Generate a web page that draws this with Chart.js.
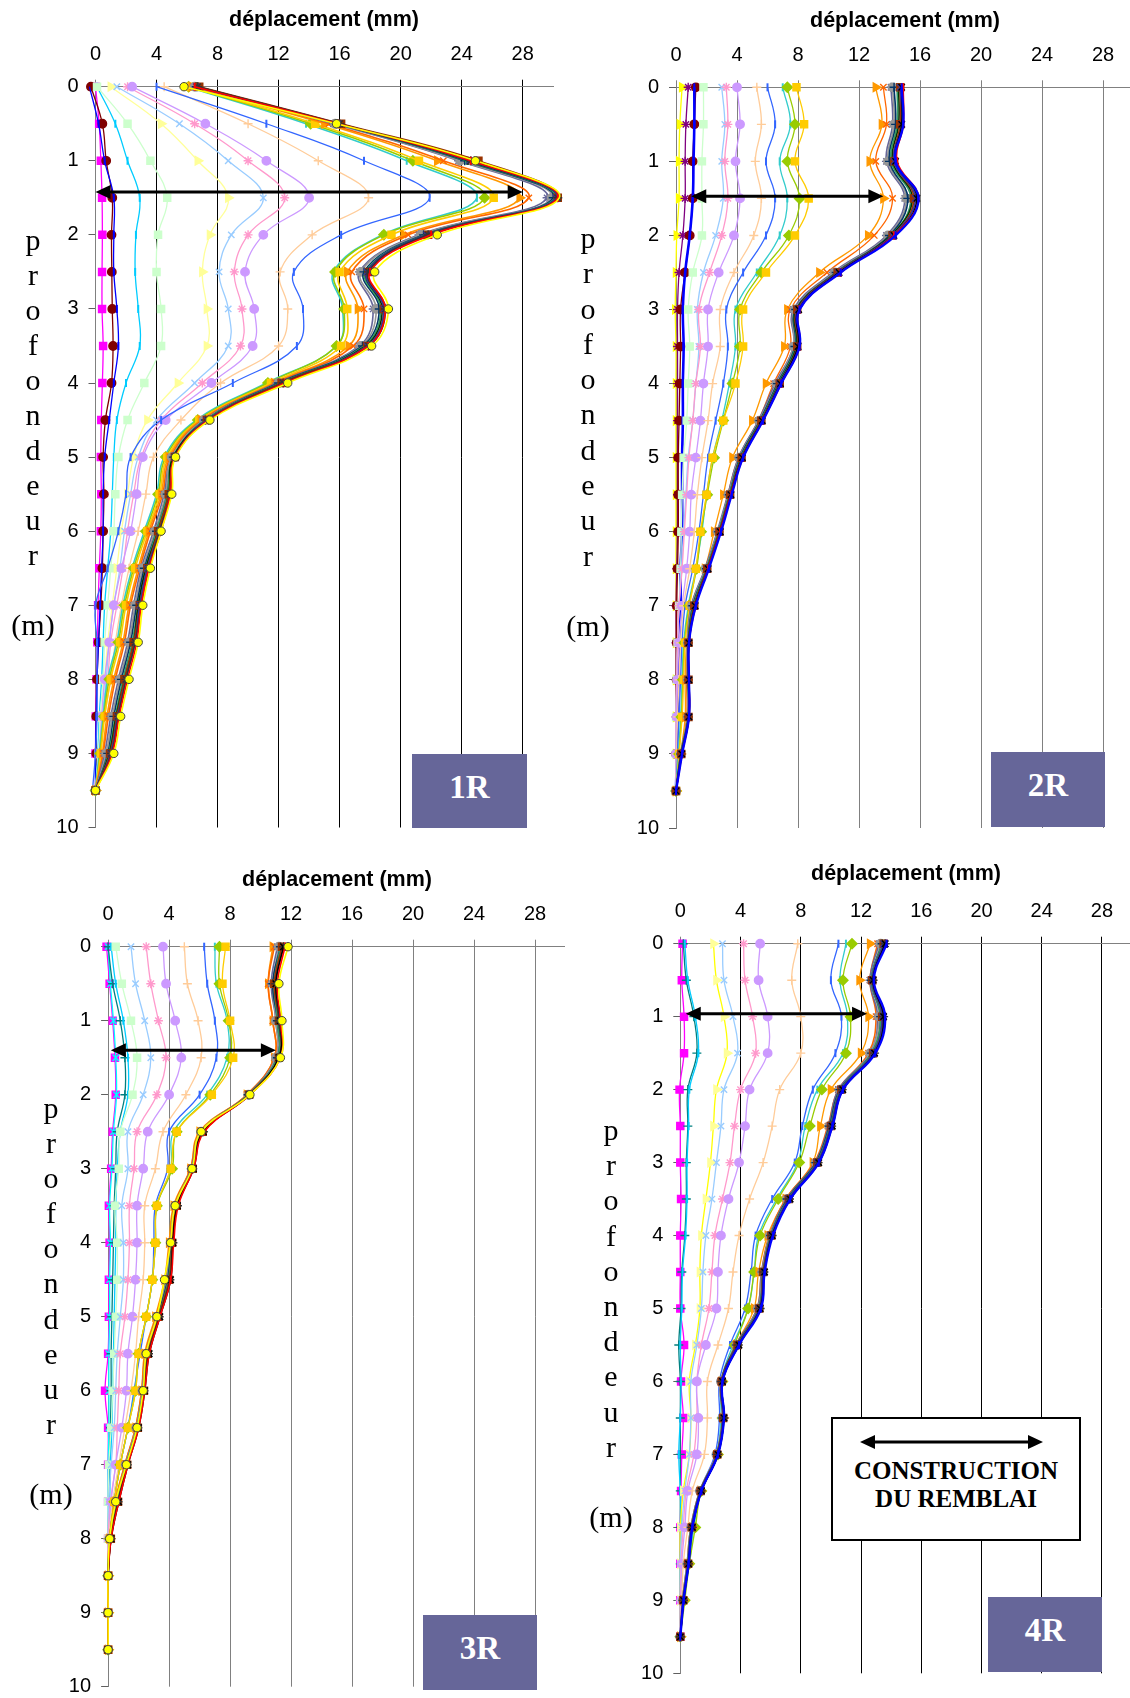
<!DOCTYPE html>
<html>
<head>
<meta charset="utf-8">
<script src="https://cdn.jsdelivr.net/npm/chart.js@4.4.0/dist/chart.umd.min.js"></script>
<style>
  html, body { margin: 0; padding: 0; background: #fff; }
  body { position: relative; width: 1130px; height: 1698px; overflow: hidden; }
  canvas { position: absolute; }
  .title { position: absolute; font: bold 21.5px 'Liberation Sans', Arial, sans-serif; line-height: 22px;
           white-space: nowrap; transform: translateX(-50%); color: #000; }
  .depth { position: absolute; width: 60px; margin-left: -30px; text-align: center;
           font: 30px 'Liberation Serif', 'Times New Roman', serif; color: #000; }
  .tag { position: absolute; background: #666699; color: #fff; box-sizing: border-box; padding-bottom: 8px;
         font: bold 33px 'Liberation Serif', 'Times New Roman', serif;
         display: flex; align-items: center; justify-content: center; z-index: 2; }
  .legend { position: absolute; left: 831px; top: 1417px; width: 250px; height: 124px; box-sizing: border-box;
            border: 2px solid #000; background: #fff; z-index: 2; }
  .legend svg { position: absolute; left: 0; top: 0; }
  .legend .txt { position: absolute; left: 0; right: 0; top: 38px; text-align: center; line-height: 30px;
                 font: bold 25px 'Liberation Serif', 'Times New Roman', serif; color: #000; }
</style>
</head>
<body>

<canvas id="c1" width="565" height="850" style="left:0;top:0"></canvas>
<canvas id="c2" width="565" height="850" style="left:565px;top:0"></canvas>
<canvas id="c3" width="565" height="848" style="left:0;top:850px"></canvas>
<canvas id="c4" width="565" height="848" style="left:565px;top:850px"></canvas>

<div class="title" style="left:324px;top:8px">déplacement (mm)</div>
<div class="title" style="left:905px;top:9px">déplacement (mm)</div>
<div class="title" style="left:337px;top:868px">déplacement (mm)</div>
<div class="title" style="left:906px;top:862px">déplacement (mm)</div>

<div class="depth" style="left:33px;top:222px;line-height:35px">p<br>r<br>o<br>f<br>o<br>n<br>d<br>e<br>u<br>r<br><br>(m)</div>
<div class="depth" style="left:588px;top:220px;line-height:35.3px">p<br>r<br>o<br>f<br>o<br>n<br>d<br>e<br>u<br>r<br><br>(m)</div>
<div class="depth" style="left:51px;top:1090px;line-height:35.1px">p<br>r<br>o<br>f<br>o<br>n<br>d<br>e<br>u<br>r<br><br>(m)</div>
<div class="depth" style="left:611px;top:1112px;line-height:35.2px">p<br>r<br>o<br>f<br>o<br>n<br>d<br>e<br>u<br>r<br><br>(m)</div>

<div class="tag" style="left:412px;top:754px;width:115px;height:74px">1R</div>
<div class="tag" style="left:991px;top:752px;width:114px;height:75px">2R</div>
<div class="tag" style="left:423px;top:1615px;width:114px;height:75px">3R</div>
<div class="tag" style="left:988px;top:1597px;width:114px;height:75px">4R</div>

<div class="legend">
  <svg width="246" height="50">
    <line x1="40" y1="23" x2="197" y2="23" stroke="#000" stroke-width="3"/>
    <polygon points="27,23 42,16 42,30" fill="#000"/>
    <polygon points="210,23 195,16 195,30" fill="#000"/>
  </svg>
  <div class="txt">CONSTRUCTION<br>DU REMBLAI</div>
</div>

<script>
// Depth of each inclinometer reading (m)
const depth = [0, 0.5, 1, 1.5, 2, 2.5, 3, 3.5, 4, 4.5, 5, 5.5, 6, 6.5, 7, 7.5, 8, 8.5, 9, 9.5];
// Axis tick values
const dispTicks = [0, 4, 8, 12, 16, 20, 24, 28];
const depthTicks = [0, 1, 2, 3, 4, 5, 6, 7, 8, 9, 10];

// Filling phase markers: depth (m), start and end displacement (mm) for 1R, 2R, 3R, 4R
const arrowDepth = [1.42, 1.47, 1.40, 0.96];
const arrowFrom = [0.0, 1.0, 0.18, 0.36];
const arrowTo = [28.0, 13.6, 11.0, 12.4];

// ---------- Inclinometer 1R : displacement (mm) per reading ----------
const r1_magenta  = [0, 0.24, 0.35, 0.43, 0.45, 0.43, 0.43, 0.5, 0.45, 0.38, 0.35, 0.38, 0.35, 0.25, 0.17, 0.12, 0.07, 0.02, 0, 0];
const r1_maroon   = [-0.3, 0.45, 0.7, 1.1, 1.05, 1.07, 1.1, 1.15, 1.05, 0.65, 0.5, 0.55, 0.5, 0.45, 0.35, 0.2, 0.1, 0.05, 0.05, 0];
const r1_blue     = [-0.4, 0.2, 0.6, 1.2, 1.2, 1.2, 1.4, 1.5, 1.2, 0.9, 0.6, 0.5, 0.5, 0.4, 0.3, 0.2, 0.1, 0.05, 0, 0];
const r1_sky      = [0.1, 1.3, 2.1, 2.9, 2.65, 2.6, 2.8, 2.9, 2.0, 1.4, 1.2, 1.1, 1.0, 0.8, 0.6, 0.5, 0.4, 0.25, 0.15, 0];
const r1_lgreen   = [0.1, 2.1, 3.6, 4.7, 4.1, 4.0, 4.3, 4.3, 3.2, 2.1, 1.5, 1.3, 1.2, 1.0, 0.8, 0.6, 0.5, 0.3, 0.2, 0];
const r1_lyellow  = [1.0, 4.3, 6.7, 8.7, 7.5, 7.0, 7.3, 7.3, 5.4, 3.4, 2.5, 2.1, 1.7, 1.4, 1.1, 0.8, 0.6, 0.4, 0.2, 0];
const r1_paleblue = [1.4, 5.5, 8.7, 11.0, 8.9, 8.1, 8.7, 8.7, 6.5, 4.0, 2.8, 2.3, 1.9, 1.6, 1.2, 0.9, 0.7, 0.45, 0.25, 0];
const r1_rose     = [2.1, 6.5, 10.0, 12.4, 10.0, 9.1, 9.6, 9.5, 7.0, 4.3, 3.0, 2.5, 2.1, 1.8, 1.4, 1.0, 0.8, 0.5, 0.3, 0];
const r1_lavender = [2.4, 7.2, 11.2, 14.0, 11.0, 9.8, 10.4, 10.3, 7.6, 4.6, 3.1, 2.7, 2.3, 1.7, 1.2, 0.9, 0.6, 0.4, 0.25, 0];
const r1_tan      = [4.5, 10.0, 14.6, 17.9, 14.2, 12.1, 12.6, 12.0, 8.2, 5.6, 3.8, 3.3, 2.8, 2.2, 1.7, 1.3, 1.0, 0.6, 0.3, 0];
const r1_royal    = [4.0, 11.2, 17.6, 21.9, 16.1, 13.0, 13.6, 13.2, 9.0, 4.3, 2.3, 2.0, 1.5, 0.8, 0.0, 0.1, 0.1, 0.1, 0.0, -0.2];
const r1_aqua     = [6.0, 13.8, 20.4, 25.0, 18.8, 15.6, 16.2, 15.8, 11.2, 6.6, 4.5, 4.0, 3.2, 2.4, 1.8, 1.4, 0.8, 0.5, 0.25, 0];
const r1_lime     = [6.1, 14.1, 20.8, 25.5, 18.9, 15.7, 16.3, 15.8, 11.3, 6.7, 4.6, 4.1, 3.3, 2.5, 1.9, 1.5, 0.9, 0.55, 0.3, 0];
const r1_gold     = [6.2, 14.4, 21.2, 26.1, 19.4, 16.0, 16.5, 16.1, 11.5, 6.8, 4.7, 4.2, 3.4, 2.6, 2.0, 1.6, 1.0, 0.6, 0.35, 0];
const r1_orange   = [6.3, 15.0, 22.4, 27.8, 20.2, 16.5, 17.2, 16.6, 11.7, 6.9, 4.8, 4.3, 3.5, 2.8, 2.2, 1.8, 1.2, 0.75, 0.45, 0];
const r1_orangered= [6.4, 15.3, 22.8, 28.4, 20.5, 16.8, 17.6, 16.9, 11.8, 7.0, 4.9, 4.4, 3.6, 2.9, 2.3, 1.9, 1.3, 0.85, 0.5, 0];
const r1_bluegray = [6.5, 15.6, 23.8, 29.6, 21.2, 17.3, 18.2, 17.3, 11.9, 7.1, 5.0, 4.5, 3.8, 3.0, 2.5, 2.1, 1.5, 1.0, 0.6, 0];
const r1_gray     = [6.5, 15.7, 23.9, 29.9, 21.3, 17.4, 18.4, 17.4, 12.0, 7.1, 5.0, 4.6, 3.9, 3.1, 2.6, 2.2, 1.6, 1.1, 0.7, 0];
const r1_darkteal = [6.6, 15.8, 24.2, 30.0, 21.5, 17.6, 18.6, 17.5, 12.0, 7.2, 5.1, 4.7, 4.0, 3.2, 2.7, 2.3, 1.7, 1.2, 0.8, 0];
const r1_seagreen = [6.6, 15.8, 24.3, 30.1, 21.6, 17.7, 18.7, 17.6, 12.1, 7.2, 5.1, 4.7, 4.0, 3.3, 2.8, 2.4, 1.8, 1.3, 0.85, 0];
const r1_darkgreen= [6.7, 15.9, 24.4, 30.2, 21.7, 17.8, 18.8, 17.7, 12.2, 7.3, 5.1, 4.8, 4.1, 3.3, 2.8, 2.5, 1.9, 1.35, 0.9, 0];
const r1_brown    = [6.8, 16.1, 25.1, 30.3, 21.8, 17.9, 18.9, 17.8, 12.2, 7.3, 5.2, 4.8, 4.1, 3.4, 2.9, 2.5, 1.9, 1.4, 0.95, 0];
const r1_indigo   = [6.6, 15.9, 24.5, 30.2, 21.7, 17.8, 18.9, 17.8, 12.3, 7.3, 5.2, 4.9, 4.2, 3.4, 2.9, 2.6, 2.0, 1.45, 1.0, 0];
const r1_charcoal = [6.7, 16.0, 24.6, 30.3, 21.8, 17.9, 19.0, 17.9, 12.3, 7.4, 5.2, 4.9, 4.2, 3.5, 3.0, 2.6, 2.0, 1.5, 1.05, 0];
const r1_red      = [6.5, 15.9, 24.6, 30.3, 22.0, 18.0, 19.0, 17.9, 12.4, 7.4, 5.2, 4.9, 4.3, 3.5, 3.0, 2.7, 2.1, 1.55, 1.1, 0];
const r1_yellow   = [5.8, 15.8, 24.9, 30.4, 22.4, 18.3, 19.2, 18.1, 12.6, 7.5, 5.25, 5.0, 4.3, 3.6, 3.1, 2.8, 2.2, 1.65, 1.2, 0];

// ---------- Inclinometer 2R ----------
const r2_yellow   = [0.4, 0.25, 0.2, 0.2, 0.05, 0.0, -0.05, 0.0, 0.0, 0.0, 0.0, 0.0, 0.0, 0.0, 0.0, 0.0, 0.0, 0.0, 0.0, 0];
const r2_purple   = [0.8, 0.65, 0.6, 0.6, 0.45, 0.2, 0.1, 0.1, 0.1, 0.1, 0.1, 0.1, 0.1, 0.05, 0.0, 0.0, 0.0, 0.0, 0.0, 0];
const r2_maroon   = [1.3, 1.2, 1.1, 1.1, 0.9, 0.6, 0.3, 0.3, 0.25, 0.2, 0.15, 0.15, 0.15, 0.1, 0.05, 0.05, 0.05, 0.05, 0.0, 0];
const r2_blue     = [1.2, 1.2, 1.15, 1.1, 0.9, 0.6, 0.45, 0.5, 0.45, 0.45, 0.4, 0.4, 0.4, 0.3, 0.3, 0.2, 0.15, 0.1, 0.05, 0];
const r2_lgreen   = [1.8, 1.8, 1.7, 1.7, 1.7, 1.1, 0.8, 0.9, 0.8, 0.7, 0.5, 0.4, 0.35, 0.3, 0.2, 0.1, 0.05, 0.0, 0.0, 0];
const r2_paleblue = [3.0, 3.2, 3.0, 3.1, 2.6, 1.8, 1.4, 1.5, 1.3, 1.1, 0.8, 0.65, 0.5, 0.35, 0.2, 0.1, 0.05, 0.0, 0.0, 0];
const r2_rose     = [3.3, 3.4, 3.2, 3.4, 3.0, 2.2, 1.5, 1.6, 1.3, 1.1, 0.85, 0.7, 0.55, 0.4, 0.2, 0.1, 0.05, 0.0, 0.0, 0];
const r2_lavender = [4.0, 4.2, 3.9, 4.2, 3.8, 2.8, 2.1, 2.1, 1.8, 1.6, 1.3, 1.0, 0.9, 0.7, 0.4, 0.2, 0.1, 0.05, 0.0, 0];
const r2_tan      = [5.3, 5.6, 5.2, 5.6, 5.1, 3.8, 2.9, 2.9, 2.4, 2.1, 1.7, 1.4, 1.2, 0.9, 0.5, 0.3, 0.2, 0.1, 0.05, 0];
const r2_royal    = [6.0, 6.5, 5.9, 6.5, 5.9, 4.4, 3.3, 3.4, 3.1, 2.6, 2.1, 1.8, 1.5, 1.1, 0.6, 0.4, 0.3, 0.2, 0.1, 0];
const r2_aqua     = [7.0, 7.5, 6.8, 7.3, 6.8, 5.3, 3.9, 3.9, 3.5, 3.0, 2.4, 2.0, 1.7, 1.3, 0.8, 0.5, 0.4, 0.3, 0.15, 0];
const r2_lime     = [7.3, 7.8, 7.3, 8.1, 7.4, 5.6, 4.2, 4.2, 3.7, 3.1, 2.5, 2.05, 1.65, 1.35, 0.85, 0.55, 0.45, 0.35, 0.2, 0];
const r2_gold     = [7.9, 8.4, 7.8, 8.7, 7.8, 5.9, 4.4, 4.4, 3.9, 3.1, 2.4, 2.0, 1.6, 1.3, 0.9, 0.6, 0.5, 0.4, 0.2, 0];
const r2_orange   = [13.1, 13.5, 12.7, 13.6, 12.6, 9.4, 7.3, 7.1, 5.9, 5.0, 3.7, 3.1, 2.5, 1.9, 1.0, 0.7, 0.6, 0.6, 0.3, 0];
const r2_orangered= [13.6, 13.8, 13.1, 14.2, 13.0, 9.9, 7.5, 7.5, 6.4, 5.4, 4.1, 3.4, 2.8, 2.0, 1.1, 0.8, 0.7, 0.7, 0.35, 0];
const r2_bluegray = [14.1, 14.2, 13.8, 15.0, 13.8, 10.3, 7.7, 7.7, 6.5, 5.4, 4.1, 3.4, 2.7, 1.9, 1.0, 0.75, 0.75, 0.75, 0.3, 0];
const r2_gray     = [14.2, 14.3, 13.9, 15.1, 13.9, 10.4, 7.8, 7.7, 6.6, 5.45, 4.15, 3.45, 2.75, 1.95, 1.05, 0.77, 0.77, 0.77, 0.3, 0];
const r2_darkteal = [14.3, 14.4, 14.0, 15.2, 14.0, 10.5, 7.85, 7.8, 6.65, 5.5, 4.2, 3.5, 2.8, 2.0, 1.1, 0.8, 0.8, 0.8, 0.32, 0];
const r2_seagreen = [14.5, 14.5, 14.1, 15.4, 14.1, 10.55, 7.9, 7.85, 6.7, 5.55, 4.25, 3.5, 2.8, 2.0, 1.15, 0.8, 0.8, 0.8, 0.33, 0];
const r2_darkgreen= [14.6, 14.6, 14.2, 15.5, 14.1, 10.6, 7.9, 7.9, 6.75, 5.6, 4.3, 3.55, 2.85, 2.05, 1.2, 0.82, 0.82, 0.82, 0.35, 0];
const r2_brown    = [14.7, 14.7, 14.3, 15.6, 14.2, 10.6, 7.95, 7.95, 6.8, 5.6, 4.3, 3.55, 2.85, 2.05, 1.2, 0.82, 0.82, 0.82, 0.35, 0];
const r2_indigo   = [14.7, 14.8, 14.3, 15.7, 14.2, 10.65, 8.0, 8.0, 6.8, 5.65, 4.35, 3.6, 2.9, 2.1, 1.25, 0.84, 0.84, 0.84, 0.37, 0];
const r2_black    = [14.8, 14.8, 14.4, 15.8, 14.3, 10.7, 8.05, 8.0, 6.85, 5.65, 4.35, 3.6, 2.9, 2.1, 1.25, 0.85, 0.85, 0.85, 0.38, 0];
const r2_red      = [14.9, 14.9, 14.5, 15.9, 14.3, 10.8, 8.1, 8.1, 6.9, 5.7, 4.4, 3.6, 2.9, 2.1, 1.3, 0.85, 0.85, 0.85, 0.4, 0];
const r2_bblue    = [14.8, 14.9, 14.4, 15.9, 14.4, 10.8, 8.1, 8.1, 6.9, 5.7, 4.4, 3.65, 2.95, 2.15, 1.3, 0.85, 0.85, 0.85, 0.4, 0];

// ---------- Inclinometer 3R ----------
const r3_magenta  = [-0.1, 0.1, 0.3, 0.45, 0.5, 0.3, 0.2, 0.05, 0.1, 0.05, 0.05, 0.0, -0.2, 0.0, 0.0, 0.0, 0.0, 0.0, 0.0, 0];
const r3_cyan     = [0.0, 0.15, 0.35, 0.5, 0.55, 0.35, 0.25, 0.1, 0.15, 0.1, 0.1, 0.05, 0.05, 0.05, 0.0, 0.0, 0.0, 0.0, 0.0, 0];
const r3_teal     = [0.0, 0.3, 0.8, 1.1, 1.1, 0.6, 0.5, 0.4, 0.35, 0.3, 0.25, 0.2, 0.2, 0.15, 0.1, 0.05, 0.0, 0.0, 0.0, 0];
const r3_sky      = [0.2, 0.5, 1.0, 1.3, 1.3, 0.8, 0.6, 0.5, 0.5, 0.45, 0.4, 0.35, 0.3, 0.25, 0.15, 0.1, 0.0, 0.0, 0.0, 0];
const r3_lgreen   = [0.5, 0.9, 1.5, 1.9, 1.6, 0.8, 0.7, 0.45, 0.6, 0.6, 0.5, 0.4, 0.3, 0.2, 0.05, 0.0, 0.0, 0.0, 0.0, 0];
const r3_paleblue = [1.5, 1.8, 2.4, 2.8, 2.3, 1.3, 1.3, 0.9, 1.0, 1.0, 0.8, 0.6, 0.5, 0.4, 0.2, 0.05, 0.0, 0.0, 0.0, 0];
const r3_rose     = [2.5, 2.8, 3.3, 3.8, 3.2, 1.9, 1.7, 1.4, 1.4, 1.3, 1.1, 0.8, 0.7, 0.6, 0.5, 0.15, 0.0, 0.0, 0.0, 0];
const r3_lavender = [3.6, 3.8, 4.4, 4.8, 4.0, 2.6, 2.3, 1.9, 1.9, 1.8, 1.6, 1.3, 1.2, 0.9, 0.5, 0.2, 0.05, 0.0, 0.0, 0];
const r3_tan      = [5.0, 5.2, 5.9, 6.1, 5.1, 3.6, 3.1, 2.4, 2.4, 2.3, 2.0, 1.8, 1.5, 1.1, 0.7, 0.3, 0.05, 0.0, 0.0, 0];
const r3_royal    = [6.3, 6.5, 7.0, 7.1, 6.0, 4.0, 3.9, 3.1, 3.0, 2.9, 2.5, 2.1, 1.7, 1.3, 0.8, 0.4, 0.1, 0.0, 0.0, 0];
const r3_aqua     = [7.0, 7.1, 7.8, 7.8, 6.5, 4.3, 4.1, 3.2, 3.1, 2.9, 2.5, 2.0, 1.75, 1.3, 0.8, 0.4, 0.1, 0.0, 0.0, 0];
const r3_lime     = [7.3, 7.3, 7.9, 8.0, 6.7, 4.5, 4.2, 3.2, 3.1, 2.9, 2.5, 2.0, 1.8, 1.3, 0.8, 0.4, 0.1, 0.0, 0.0, 0];
const r3_gold     = [7.7, 7.5, 8.0, 8.2, 6.8, 4.5, 4.1, 3.2, 3.1, 2.9, 2.5, 2.0, 1.8, 1.3, 0.8, 0.4, 0.1, 0.0, 0.0, 0];
const r3_orange   = [10.8, 10.5, 10.8, 10.9, 9.1, 6.0, 5.4, 4.3, 4.0, 3.7, 3.1, 2.4, 2.2, 1.8, 1.1, 0.45, 0.1, 0, 0, 0];
const r3_orangered= [10.9, 10.5, 10.8, 10.9, 9.1, 6.05, 5.4, 4.35, 4.05, 3.75, 3.15, 2.45, 2.2, 1.8, 1.1, 0.5, 0.1, 0, 0, 0];
const r3_bluegray = [11.1, 10.7, 11.0, 11.0, 9.15, 6.1, 5.45, 4.4, 4.1, 3.8, 3.2, 2.5, 2.25, 1.85, 1.15, 0.55, 0.12, 0, 0, 0];
const r3_gray     = [11.2, 10.8, 11.0, 11.0, 9.2, 6.1, 5.5, 4.4, 4.1, 3.85, 3.2, 2.5, 2.25, 1.85, 1.15, 0.55, 0.12, 0, 0, 0];
const r3_darkteal = [11.3, 10.8, 11.1, 11.1, 9.2, 6.15, 5.5, 4.45, 4.15, 3.9, 3.25, 2.55, 2.3, 1.9, 1.2, 0.6, 0.15, 0, 0, 0];
const r3_seagreen = [11.3, 10.9, 11.1, 11.1, 9.2, 6.2, 5.5, 4.5, 4.2, 3.95, 3.3, 2.6, 2.3, 1.9, 1.2, 0.6, 0.15, 0, 0, 0];
const r3_brown    = [11.4, 10.9, 11.2, 11.2, 9.25, 6.2, 5.55, 4.5, 4.2, 4.0, 3.3, 2.6, 2.35, 1.95, 1.25, 0.65, 0.18, 0, 0, 0];
const r3_charcoal = [11.5, 11.0, 11.2, 11.2, 9.25, 6.25, 5.55, 4.55, 4.25, 4.05, 3.35, 2.65, 2.35, 1.95, 1.25, 0.65, 0.18, 0, 0, 0];
const r3_black    = [11.5, 11.0, 11.3, 11.2, 9.3, 6.25, 5.6, 4.55, 4.25, 4.1, 3.4, 2.7, 2.4, 2.0, 1.3, 0.7, 0.2, 0, 0, 0];
const r3_red      = [11.6, 11.1, 11.3, 11.3, 9.3, 6.3, 5.6, 4.6, 4.3, 4.1, 3.4, 2.7, 2.4, 2.0, 1.3, 0.7, 0.2, 0, 0, 0];
const r3_yellow   = [11.8, 11.2, 11.4, 11.3, 9.3, 6.1, 5.5, 4.4, 4.1, 3.7, 3.2, 2.5, 2.3, 1.9, 1.2, 0.5, 0.1, 0, 0, 0];

// ---------- Inclinometer 4R ----------
const r4_magenta  = [0.15, 0.1, 0.25, 0.25, -0.05, 0.0, 0.0, 0.05, 0.0, 0.0, 0.0, 0.25, 0.05, 0.2, 0.1, 0.05, 0.0, 0.0, 0.0, 0];
const r4_teal     = [0.2, 0.4, 0.9, 1.1, 0.5, 0.5, 0.4, 0.4, 0.3, 0.1, 0.05, -0.1, 0.0, 0.0, 0.0, 0.0, 0.0, 0.0, 0.0, 0];
const r4_sky      = [0.3, 0.5, 1.0, 1.2, 0.6, 0.55, 0.45, 0.45, 0.35, 0.15, 0.1, 0.0, 0.05, 0.0, -0.1, 0.0, 0.05, 0.0, 0.0, 0];
const r4_lyellow  = [2.2, 2.4, 2.9, 3.1, 2.4, 2.2, 2.0, 1.7, 1.4, 1.3, 1.3, 1.0, 0.6, 0.7, 0.6, 0.2, 0.0, 0.0, 0.0, 0];
const r4_paleblue = [2.8, 2.9, 3.5, 3.8, 2.9, 2.7, 2.4, 2.1, 1.7, 1.5, 1.4, 1.1, 0.7, 0.7, 0.6, 0.3, 0.1, 0.0, 0.0, 0];
const r4_rose     = [4.2, 4.3, 4.8, 5.0, 4.0, 3.6, 3.3, 2.8, 2.3, 2.1, 1.9, 1.4, 1.1, 1.1, 0.9, 0.4, 0.2, 0.05, 0.0, 0];
const r4_lavender = [5.3, 5.2, 5.8, 5.8, 4.6, 4.3, 3.9, 3.2, 2.7, 2.5, 2.4, 1.7, 1.1, 1.2, 1.1, 0.5, 0.3, 0.1, 0.05, 0];
const r4_tan      = [7.8, 7.4, 8.0, 8.0, 6.6, 6.1, 5.5, 4.6, 3.9, 3.5, 3.2, 2.5, 1.8, 1.8, 1.6, 0.8, 0.5, 0.2, 0.1, 0];
const r4_royal    = [10.5, 10.0, 10.7, 10.3, 8.8, 8.1, 7.6, 6.1, 5.0, 4.7, 4.3, 3.3, 2.6, 2.6, 2.3, 1.3, 0.8, 0.5, 0.2, 0];
const r4_aqua     = [11.0, 10.6, 11.1, 10.8, 9.1, 8.3, 7.8, 6.4, 5.2, 4.9, 4.5, 3.5, 2.7, 2.7, 2.4, 1.4, 0.9, 0.6, 0.2, 0];
const r4_lime     = [11.4, 10.8, 11.3, 11.0, 9.4, 8.6, 7.9, 6.5, 5.3, 4.9, 4.5, 3.6, 2.8, 2.8, 2.5, 1.4, 1.0, 0.6, 0.3, 0];
const r4_orange   = [12.6, 11.9, 12.5, 12.0, 10.0, 9.3, 8.8, 7.0, 5.8, 5.2, 4.9, 3.7, 2.75, 2.85, 2.45, 1.35, 0.8, 0.5, 0.2, 0];
const r4_orangered= [13.1, 12.6, 13.0, 12.5, 10.5, 9.8, 8.9, 7.0, 5.9, 5.4, 5.1, 3.7, 2.7, 2.8, 2.4, 1.3, 0.7, 0.45, 0.15, 0];
const r4_bluegray = [13.2, 12.6, 13.1, 12.6, 10.5, 9.85, 8.95, 7.05, 5.95, 5.4, 5.1, 3.7, 2.7, 2.8, 2.4, 1.3, 0.7, 0.45, 0.15, 0];
const r4_gray     = [13.3, 12.7, 13.2, 12.6, 10.6, 9.9, 9.0, 7.1, 5.95, 5.45, 5.15, 3.75, 2.7, 2.8, 2.4, 1.3, 0.72, 0.47, 0.17, 0];
const r4_darkteal = [13.4, 12.7, 13.3, 12.7, 10.6, 9.9, 9.0, 7.1, 6.0, 5.5, 5.2, 3.75, 2.72, 2.82, 2.42, 1.33, 0.74, 0.5, 0.18, 0];
const r4_seagreen = [13.4, 12.7, 13.3, 12.7, 10.65, 9.95, 9.05, 7.15, 6.0, 5.5, 5.2, 3.8, 2.75, 2.85, 2.45, 1.35, 0.75, 0.5, 0.2, 0];
const r4_brown    = [13.5, 12.75, 13.4, 12.8, 10.7, 10.0, 9.1, 7.2, 6.05, 5.5, 5.25, 3.8, 2.75, 2.85, 2.45, 1.35, 0.77, 0.52, 0.2, 0];
const r4_indigo   = [13.5, 12.75, 13.4, 12.8, 10.7, 10.0, 9.1, 7.2, 6.05, 5.55, 5.25, 3.85, 2.78, 2.88, 2.48, 1.38, 0.78, 0.53, 0.21, 0];
const r4_charcoal = [13.6, 12.8, 13.5, 12.9, 10.75, 10.05, 9.15, 7.25, 6.1, 5.55, 5.3, 3.85, 2.8, 2.9, 2.5, 1.4, 0.8, 0.55, 0.22, 0];
const r4_black    = [13.6, 12.8, 13.5, 12.9, 10.8, 10.1, 9.2, 7.3, 6.1, 5.6, 5.3, 3.9, 2.8, 2.9, 2.5, 1.4, 0.8, 0.55, 0.22, 0];
const r4_bblue    = [13.7, 12.85, 13.6, 12.95, 10.8, 10.1, 9.2, 7.3, 6.15, 5.6, 5.35, 3.9, 2.8, 2.9, 2.5, 1.4, 0.8, 0.55, 0.22, 0];

// Spreadsheet-style series colours and markers
const STYLE = {
  magenta:   { c: '#FF00FF', m: 'rect' },
  yellow:    { c: '#FFFF00', m: 'triangle' },
  cyan:      { c: '#00FFFF', m: 'crossRot' },
  purple:    { c: '#800080', m: 'star' },
  maroon:    { c: '#800000', m: 'circle' },
  teal:      { c: '#008080', m: 'cross' },
  blue:      { c: '#0000FF', m: 'line' },
  sky:       { c: '#00CCFF', m: 'line' },
  lgreen:    { c: '#CCFFCC', m: 'rect' },
  lyellow:   { c: '#FFFF99', m: 'triangle' },
  paleblue:  { c: '#99CCFF', m: 'crossRot' },
  rose:      { c: '#FF99CC', m: 'star' },
  lavender:  { c: '#CC99FF', m: 'circle' },
  tan:       { c: '#FFCC99', m: 'cross' },
  royal:     { c: '#3366FF', m: 'line' },
  aqua:      { c: '#33CCCC', m: 'line' },
  lime:      { c: '#99CC00', m: 'rectRot' },
  gold:      { c: '#FFCC00', m: 'rect' },
  orange:    { c: '#FF9900', m: 'triangle' },
  orangered: { c: '#FF6600', m: 'crossRot' },
  bluegray:  { c: '#666699', m: 'star' },
  gray:      { c: '#969696', m: 'circle' },
  darkteal:  { c: '#003366', m: 'cross' },
  seagreen:  { c: '#339966', m: 'line' },
  darkgreen: { c: '#003300', m: 'line' },
  brown:     { c: '#993300', m: 'rect' },
  indigo:    { c: '#333399', m: 'crossRot' },
  charcoal:  { c: '#333333', m: 'star' },
  black:     { c: '#000000', m: 'crossRot' },
  red:       { c: '#FF0000', m: 'line' },
  bblue:     { c: '#0000FF', m: 'line' },
  ydot:      { c: '#FFFF00', m: 'circle', edge: '#444444' }
};
const MARKER_R = { rect: 5, rectRot: 5, triangle: 5, circle: 4.2, crossRot: 4.5, cross: 4.5, star: 4.5, line: 4 };

// Double-headed arrow showing the fill construction phase
const phaseArrow = {
  id: 'phaseArrow',
  afterDatasetsDraw(chart, args, opts) {
    if (opts.depth === undefined) return;
    const { ctx } = chart;
    const xs = chart.scales.x, ys = chart.scales.y;
    const y = ys.getPixelForValue(opts.depth);
    const a = xs.getPixelForValue(opts.from), b = xs.getPixelForValue(opts.to);
    const head = 15, half = 7;
    ctx.save();
    ctx.strokeStyle = '#000';
    ctx.fillStyle = '#000';
    ctx.lineWidth = 3;
    ctx.beginPath();
    ctx.moveTo(a + head - 1, y);
    ctx.lineTo(b - head + 1, y);
    ctx.stroke();
    ctx.beginPath();
    ctx.moveTo(a, y); ctx.lineTo(a + head, y - half); ctx.lineTo(a + head, y + half); ctx.closePath();
    ctx.fill();
    ctx.beginPath();
    ctx.moveTo(b, y); ctx.lineTo(b - head, y - half); ctx.lineTo(b - head, y + half); ctx.closePath();
    ctx.fill();
    ctx.restore();
  }
};
Chart.register(phaseArrow);
Chart.defaults.font.family = "'Liberation Sans', Arial, sans-serif";

function datasetFor(key, values, idx, count, extra) {
  const st = STYLE[key];
  const ex = extra || {};
  const rotated = st.m === 'triangle' || st.m === 'line';
  return {
    data: values.map((v, k) => ({ x: v, y: depth[k] })),
    showLine: true,
    tension: 0.4,
    clip: false,
    borderColor: ex.line || st.c,
    borderWidth: ex.w || (idx >= ex.heavyFrom ? 1.6 : 1.3),
    pointStyle: st.m,
    pointRadius: MARKER_R[st.m],
    pointRotation: rotated ? 90 : 0,
    pointBackgroundColor: st.c,
    pointBorderColor: st.edge || st.c,
    pointBorderWidth: st.edge ? 1 : (st.m === 'line' ? 2 : 1.4),
    order: count - idx
  };
}

function panel(id, series, cfg, k) {
  const n = series.length;
  const datasets = series.map((s, i) => datasetFor(s[0], s[1], i, n, Object.assign({ heavyFrom: cfg.heavyFrom }, s[2] || {})));
  new Chart(document.getElementById(id), {
    type: 'scatter',
    data: { datasets },
    options: {
      responsive: false,
      animation: false,
      events: [],
      layout: { autoPadding: false, padding: cfg.pad },
      elements: { line: { capBezierPoints: false } },
      plugins: {
        legend: { display: false },
        tooltip: { enabled: false },
        phaseArrow: { depth: arrowDepth[k], from: arrowFrom[k], to: arrowTo[k] }
      },
      scales: {
        x: {
          type: 'linear', position: 'top', min: 0, max: cfg.xMax,
          afterBuildTicks: a => { a.ticks = dispTicks.map(v => ({ value: v })); },
          afterFit: a => { a.height = 45; a.paddingLeft = 0; a.paddingRight = 0; },
          ticks: { font: { size: 20 }, color: '#000', padding: 13, maxRotation: 0, autoSkip: false },
          grid: {
            color: c => (c.tick && c.tick.value === 0) ? '#808080' : cfg.grid,
            lineWidth: 1, tickLength: 7
          },
          border: { display: true, color: '#808080', width: 1 }
        },
        y: {
          type: 'linear', position: 'left', reverse: true, min: 0, max: 10,
          afterBuildTicks: a => { a.ticks = depthTicks.map(v => ({ value: v })); },
          afterFit: a => { a.width = 40; a.paddingTop = 0; a.paddingBottom = 0; },
          ticks: { font: { size: 20 }, color: '#000', padding: 10, autoSkip: false },
          grid: { drawOnChartArea: false, color: '#606060', tickLength: 7 },
          border: { display: true, color: '#808080', width: 1 }
        }
      }
    }
  });
}

panel('c1', [
  ['magenta', r1_magenta], ['maroon', r1_maroon], ['blue', r1_blue], ['sky', r1_sky],
  ['lgreen', r1_lgreen], ['lyellow', r1_lyellow], ['paleblue', r1_paleblue], ['rose', r1_rose],
  ['lavender', r1_lavender], ['tan', r1_tan], ['royal', r1_royal],
  ['aqua', r1_aqua], ['lime', r1_lime], ['gold', r1_gold], ['orange', r1_orange], ['orangered', r1_orangered],
  ['bluegray', r1_bluegray], ['gray', r1_gray], ['darkteal', r1_darkteal], ['seagreen', r1_seagreen],
  ['darkgreen', r1_darkgreen], ['brown', r1_brown], ['indigo', r1_indigo], ['charcoal', r1_charcoal],
  ['red', r1_red], ['ydot', r1_yellow]
], { xMax: 30, grid: '#000000', heavyFrom: 11, pad: { left: 55.5, top: 41.7, right: 11.8, bottom: 22.5 } }, 0);

panel('c2', [
  ['yellow', r2_yellow], ['purple', r2_purple], ['maroon', r2_maroon], ['blue', r2_blue, { w: 2.6 }],
  ['lgreen', r2_lgreen], ['paleblue', r2_paleblue], ['rose', r2_rose], ['lavender', r2_lavender],
  ['tan', r2_tan], ['royal', r2_royal], ['aqua', r2_aqua], ['lime', r2_lime], ['gold', r2_gold],
  ['orange', r2_orange], ['orangered', r2_orangered],
  ['bluegray', r2_bluegray], ['gray', r2_gray], ['darkteal', r2_darkteal], ['seagreen', r2_seagreen],
  ['darkgreen', r2_darkgreen], ['brown', r2_brown], ['indigo', r2_indigo], ['black', r2_black],
  ['red', r2_red], ['bblue', r2_bblue, { w: 2.4 }]
], { xMax: 29.77, grid: '#808080', heavyFrom: 15, pad: { left: 71, top: 42.3, right: 0, bottom: 22 } }, 1);

panel('c3', [
  ['magenta', r3_magenta], ['cyan', r3_cyan], ['teal', r3_teal], ['sky', r3_sky],
  ['lgreen', r3_lgreen], ['paleblue', r3_paleblue], ['rose', r3_rose], ['lavender', r3_lavender],
  ['tan', r3_tan], ['royal', r3_royal], ['aqua', r3_aqua], ['lime', r3_lime], ['gold', r3_gold],
  ['orange', r3_orange], ['orangered', r3_orangered], ['bluegray', r3_bluegray], ['gray', r3_gray],
  ['darkteal', r3_darkteal], ['seagreen', r3_seagreen], ['brown', r3_brown], ['charcoal', r3_charcoal],
  ['black', r3_black], ['red', r3_red], ['ydot', r3_yellow]
], { xMax: 29.96, grid: '#808080', heavyFrom: 13, pad: { left: 68.1, top: 51.7, right: 0, bottom: 11.3 } }, 2);

panel('c4', [
  ['magenta', r4_magenta], ['teal', r4_teal], ['sky', r4_sky], ['lyellow', r4_lyellow, { line: '#FFFF00' }],
  ['paleblue', r4_paleblue], ['rose', r4_rose], ['lavender', r4_lavender], ['tan', r4_tan],
  ['royal', r4_royal], ['aqua', r4_aqua], ['lime', r4_lime], ['orange', r4_orange],
  ['orangered', r4_orangered], ['bluegray', r4_bluegray], ['gray', r4_gray], ['darkteal', r4_darkteal],
  ['seagreen', r4_seagreen], ['brown', r4_brown], ['indigo', r4_indigo], ['charcoal', r4_charcoal],
  ['black', r4_black], ['bblue', r4_bblue, { w: 2.4 }]
], { xMax: 29.86, grid: '#000000', heavyFrom: 12, pad: { left: 75.3, top: 48.7, right: 0, bottom: 24.7 } }, 3);
</script>
</body>
</html>
